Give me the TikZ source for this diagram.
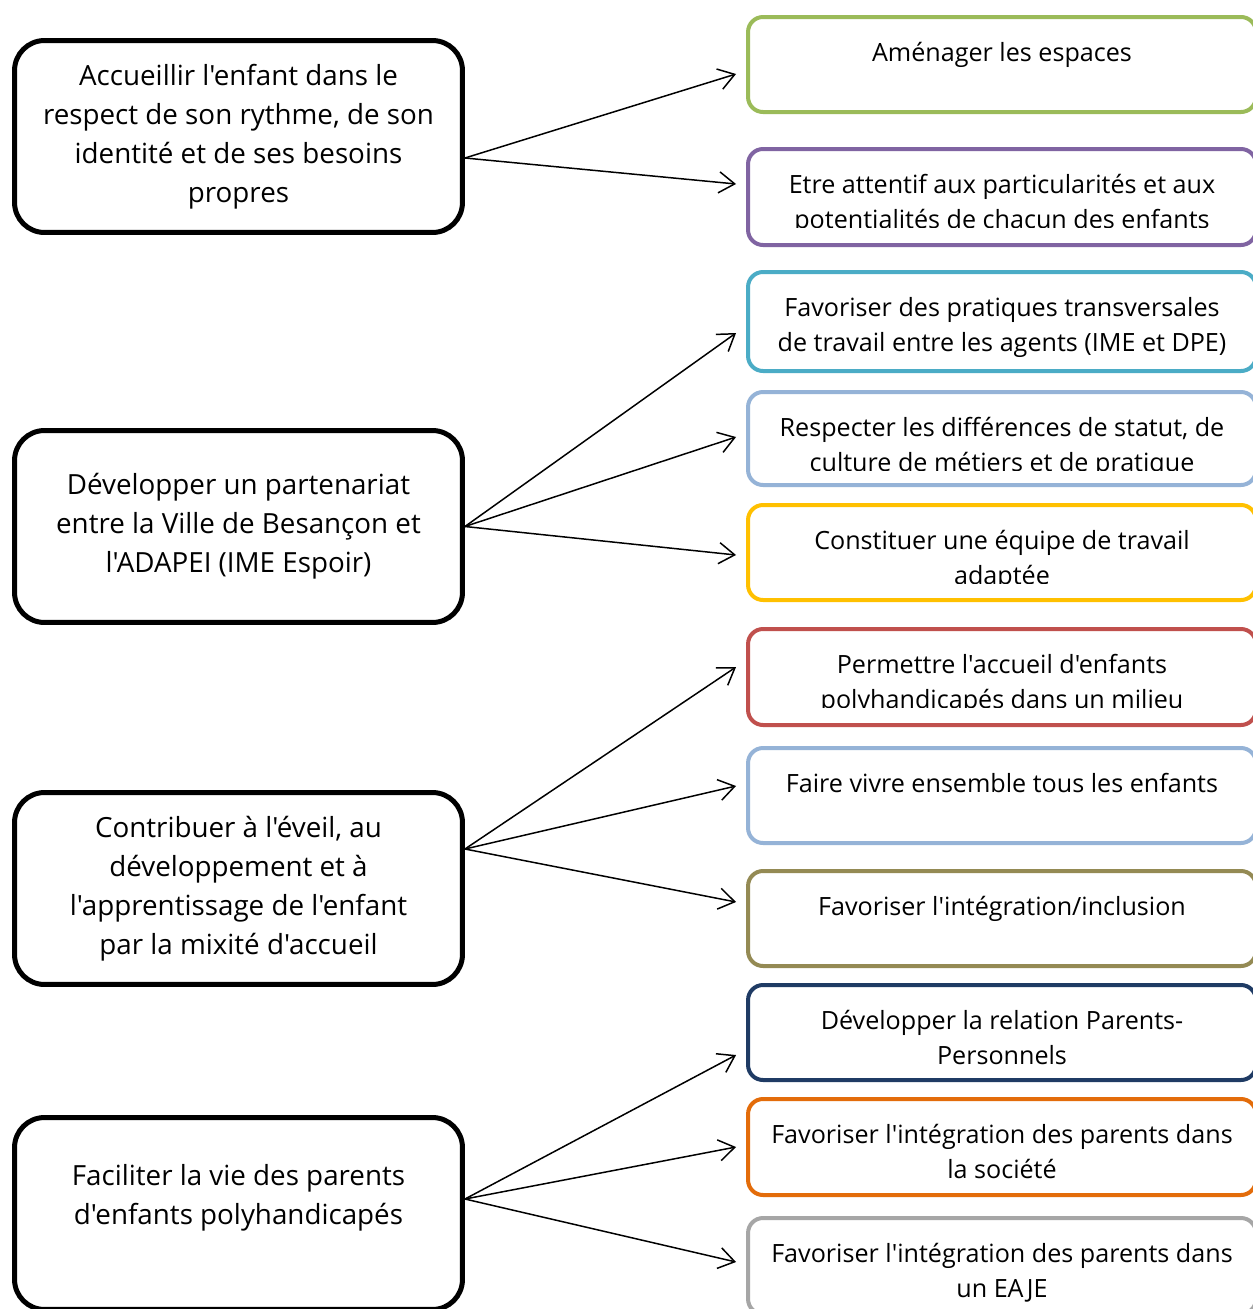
\documentclass[tikz,border=0pt]{standalone}
\usepackage{fontspec}
\setmainfont{Open Sans}[Ligatures=TeXOff]
\usepackage{xcolor}
\usetikzlibrary{arrows.meta}
\definecolor{aimgreen}{HTML}{9BBB59}
\definecolor{aimpurple}{HTML}{8064A2}
\definecolor{aimteal}{HTML}{4BACC6}
\definecolor{aimsky}{HTML}{95B3D7}
\definecolor{aimgold}{HTML}{FFC000}
\definecolor{aimred}{HTML}{C0504D}
\definecolor{aimolive}{HTML}{948A54}
\definecolor{aimnavy}{HTML}{1F3B64}
\definecolor{aimorange}{HTML}{E36C0A}
\definecolor{aimgrey}{HTML}{A6A6A6}
\tikzset{
  aim/.style={draw=black,line width=0.1cm,rounded corners=0.6cm,
    minimum width=8.96cm,minimum height=3.84cm,align=center,
    font=\fontsize{15.8}{22.1}\selectfont},
  goal/.style={draw=#1,line width=0.08cm,rounded corners=0.3cm,
    minimum width=10.16cm,inner sep=0pt},
  goaltext/.style={align=center,inner sep=0pt,
    font=\fontsize{14.3}{19.9}\selectfont},
  link/.style={line width=0.85pt,-{Straight Barb[length=9pt,width=12pt,line width=0.85pt]}}
}

\begin{document}
\begin{tikzpicture}[x=0.02cm,y=-0.02cm]
    \useasboundingbox (0,0) rectangle (1253,1309);
    \fill[white] (0,0) rectangle (1253,1309);
    \clip (0,0) rectangle (1253,1309);
    % objectifs generaux
    \node[aim] (a1) at (238.5,136.5) {Accueillir l'enfant dans le\\respect de son rythme, de son\\identité et de ses besoins\\propres};
    \node[aim] (a2) at (238.5,526.5) {Développer un partenariat\\entre la Ville de Besançon et\\l'ADAPEI (IME Espoir)};
    \node[aim] (a3) at (238.5,888.5) {Contribuer à l'éveil, au\\développement et à\\l'apprentissage de l'enfant\\par la mixité d'accueil};
    \node[aim] (a4) at (238.5,1213.5) {Faciliter la vie des parents\\d'enfants polyhandicapés\\~};
    \coordinate (s1) at ([yshift=-0.43cm]a1.east);
    \coordinate (s2) at (a2.east);
    \coordinate (s3) at ([yshift=0.79cm]a3.east);
    \coordinate (s4) at ([yshift=0.29cm]a4.east);
    % objectifs operationnels
    \foreach \i/\col/\ya/\yb/\dy/\cut/\txt in {
      1/aimgreen/15/114/-0.19/0.06/{Aménager les espaces},
      2/aimpurple/147/247/0.26/0.40/{Etre attentif aux particularités et aux\\potentialités de chacun des enfants},
      3/aimteal/270/373/-0.23/0.06/{Favoriser des pratiques transversales\\de travail entre les agents (IME et DPE)},
      4/aimsky/390/487/0.03/0.34/{Respecter les différences de statut, de\\culture de métiers et de pratique},
      5/aimgold/503/602/-0.05/0.38/{Constituer une équipe de travail\\adaptée},
      6/aimred/627/727/0.2/0.40/{Permettre l'accueil d'enfants\\polyhandicapés dans un milieu},
      7/aimsky/746/845/0.19/0.06/{Faire vivre ensemble tous les enfants},
      8/aimolive/869/968/0.33/0.06/{Favoriser l'intégration/inclusion},
      9/aimnavy/983/1082/-0.45/0.06/{Développer la relation Parents-\\Personnels},
      10/aimorange/1097/1197/0/0.06/{Favoriser l'intégration des parents dans\\la société},
      11/aimgrey/1216/1316/0.08/0.06/{Favoriser l'intégration des parents dans\\un EAJE}}{
      \node[goal=\col,minimum height={(\yb-\ya-4)*0.02cm}] (r\i) at (1002,{(\ya+\yb)/2}) {};
      \begin{scope}
        \clip ([xshift=3pt,yshift=-3pt]r\i.north west) rectangle ([xshift=-3pt,yshift=\cut cm]r\i.south east);
        \node[goaltext,anchor=north] (t\i) at ([yshift=-0.43cm]r\i.north) {\strut\txt};
      \end{scope}
      \coordinate (e\i) at ([xshift=-0.2cm,yshift=\dy cm]r\i.west);
    }
    % fleches
    \foreach \s/\e in {s1/e1,s1/e2,s2/e3,s2/e4,s2/e5,s3/e6,s3/e7,s3/e8,s4/e9,s4/e10,s4/e11}
      \draw[link] (\s) -- (\e);
\end{tikzpicture}
\end{document}
